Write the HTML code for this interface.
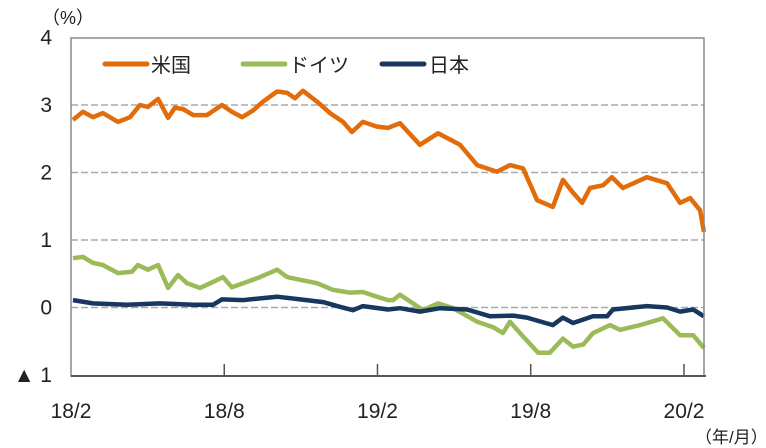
<!DOCTYPE html>
<html><head><meta charset="utf-8"><style>
html,body{margin:0;padding:0;background:#fff;}
svg{display:block;font-family:"Liberation Sans","Noto Sans CJK JP",sans-serif;}
</style></head><body>
<svg id="chart" width="766" height="448" viewBox="0 0 766 448">
<text x="42" y="24" font-size="18" fill="#222">（%）</text>
<g id="grid"></g>
<g id="yticks"></g>
<g id="xticks"></g>
<g id="series"></g>
<rect x="71" y="38" width="633" height="338" fill="none" stroke="#888" stroke-width="1.5"/>
<line x1="71" y1="376" x2="706" y2="376" stroke="#555" stroke-width="2"/>
<g>
 <g><line x1="105" y1="64" x2="147" y2="64" stroke="#E36C0A" stroke-width="5" stroke-linecap="round"/><text x="151" y="72" font-size="20" fill="#222">米国</text></g>
 <g><line x1="243" y1="64" x2="285" y2="64" stroke="#9BBB59" stroke-width="5" stroke-linecap="round"/><text x="289" y="72" font-size="20" fill="#222">ドイツ</text></g>
 <g><line x1="382" y1="64" x2="424" y2="64" stroke="#17375E" stroke-width="5" stroke-linecap="round"/><text x="429" y="72" font-size="20" fill="#222">日本</text></g>
</g>
<text x="695" y="443" font-size="17" fill="#222">（年/月）</text>
</svg>
<script>
const yTickValues=[4,3,2,1,0,-1];
const yTickLabels=["4","3","2","1","0","▲ 1"];
const xTickMonths=[0,6,12,18,24];
const xTickLabels=["18/2","18/8","19/2","19/8","20/2"];
const usMonths=[0.08,0.47,0.86,1.25,1.84,2.31,2.70,3.01,3.41,3.80,4.07,4.39,4.78,5.32,5.91,6.30,6.70,7.13,7.52,8.07,8.46,8.77,9.08,9.63,10.14,10.65,11.00,11.43,11.98,12.41,12.88,13.66,14.37,15.23,15.90,16.68,17.19,17.70,18.25,18.87,19.26,19.66,20.01,20.32,20.83,21.18,21.61,22.55,23.34,23.85,24.24,24.63,24.78];
const usValues=[2.78,2.9,2.82,2.88,2.75,2.82,3.0,2.97,3.09,2.81,2.96,2.94,2.85,2.85,3.0,2.9,2.82,2.92,3.05,3.2,3.18,3.1,3.21,3.05,2.88,2.75,2.6,2.75,2.68,2.66,2.73,2.41,2.58,2.41,2.11,2.01,2.11,2.06,1.59,1.49,1.89,1.7,1.55,1.77,1.81,1.93,1.77,1.93,1.84,1.55,1.62,1.44,1.12];
const deMonths=[0.08,0.47,0.86,1.25,1.84,2.39,2.62,3.01,3.41,3.80,4.19,4.54,5.05,5.56,5.95,6.30,6.89,7.40,8.07,8.46,8.97,9.63,10.26,10.92,11.43,11.98,12.41,12.61,12.88,13.39,13.78,14.37,14.96,15.90,16.52,16.91,17.19,17.70,18.29,18.75,19.26,19.66,20.05,20.44,21.10,21.50,22.28,23.18,23.85,24.36,24.78];
const deValues=[0.73,0.75,0.66,0.63,0.51,0.53,0.63,0.56,0.63,0.29,0.48,0.36,0.29,0.38,0.45,0.3,0.38,0.45,0.56,0.45,0.41,0.36,0.26,0.22,0.23,0.16,0.11,0.11,0.19,0.06,-0.04,0.06,-0.01,-0.21,-0.29,-0.38,-0.21,-0.43,-0.67,-0.67,-0.46,-0.58,-0.55,-0.38,-0.26,-0.33,-0.26,-0.16,-0.41,-0.41,-0.6];
const jpMonths=[0.08,0.86,2.19,3.48,4.78,5.56,5.91,6.73,8.07,8.97,9.87,10.53,11.04,11.43,12.41,12.88,13.66,14.45,15.51,16.41,17.31,17.85,18.87,19.26,19.66,20.44,20.99,21.22,22.55,23.34,23.85,24.36,24.78];
const jpValues=[0.11,0.06,0.04,0.06,0.04,0.04,0.12,0.11,0.16,0.12,0.08,0.01,-0.04,0.02,-0.03,-0.01,-0.06,-0.01,-0.03,-0.13,-0.12,-0.15,-0.26,-0.15,-0.23,-0.13,-0.13,-0.03,0.02,0.0,-0.06,-0.03,-0.13];

const NS="http://www.w3.org/2000/svg";
function xs(m){return 71+m*25.54;}
function ys(v){return 307.5-v*67.5;}
const grid=document.getElementById('grid'),yt=document.getElementById('yticks'),xt=document.getElementById('xticks'),ser=document.getElementById('series');
yTickValues.forEach((v,i)=>{
  if(v<4&&v>-1){
    const l=document.createElementNS(NS,'line');
    l.setAttribute('x1',71);l.setAttribute('x2',704);l.setAttribute('y1',ys(v));l.setAttribute('y2',ys(v));
    l.setAttribute('stroke','#aaa');l.setAttribute('stroke-width','1.5');l.setAttribute('stroke-dasharray','7 3');
    
    
    grid.appendChild(l);
  }
  const t=document.createElementNS(NS,'text');
  t.setAttribute('x',52);t.setAttribute('y',ys(v)+7);t.setAttribute('text-anchor','end');t.setAttribute('font-size','21');t.setAttribute('fill','#222');
  t.textContent=yTickLabels[i];
  
  
  yt.appendChild(t);
});
xTickMonths.forEach((m,i)=>{
  const x=xs(m);
  if(i>0){
    const l=document.createElementNS(NS,'line');
    l.setAttribute('x1',x);l.setAttribute('x2',x);l.setAttribute('y1',364);l.setAttribute('y2',376);
    l.setAttribute('stroke','#555');l.setAttribute('stroke-width','1.5');
    
    
    xt.appendChild(l);
  }
  const t=document.createElementNS(NS,'text');
  t.setAttribute('x',x);t.setAttribute('y',418);t.setAttribute('text-anchor','middle');t.setAttribute('font-size','21');t.setAttribute('fill','#222');
  t.textContent=xTickLabels[i];
  
  
  xt.appendChild(t);
});
function line(ms,vs,color,name){
  const p=document.createElementNS(NS,'polyline');
  p.setAttribute('points',ms.map((m,i)=>xs(m).toFixed(1)+','+ys(vs[i]).toFixed(1)).join(' '));
  p.setAttribute('fill','none');p.setAttribute('stroke',color);p.setAttribute('stroke-width','4.5');p.setAttribute('stroke-linejoin','round');
  
  
  ser.appendChild(p);
}
line(deMonths,deValues,'#9BBB59','germany-line');
line(jpMonths,jpValues,'#17375E','japan-line');
line(usMonths,usValues,'#E36C0A','us-line');
</script>
</body></html>
